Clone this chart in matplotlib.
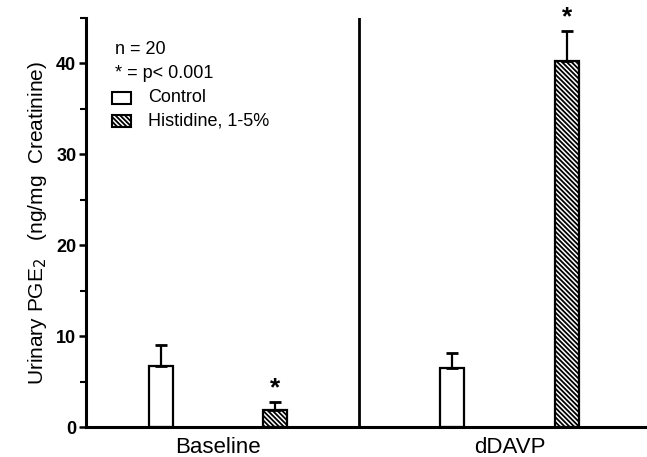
import matplotlib
matplotlib.use("Agg")
import matplotlib.pyplot as plt
from matplotlib.patches import Rectangle

plt.rcParams['font.family'] = ['Liberation Sans', 'DejaVu Sans']
plt.rcParams['hatch.linewidth'] = 1.3

# data
groups = ['Baseline', 'dDAVP']
group_pos = [2.35, 7.55]
control = [6.7, 6.5]
control_err = [2.3, 1.6]
histidine = [1.9, 40.3]
histidine_err = [0.8, 3.3]

HATCH = '\\' * 7

fig = plt.figure(figsize=(6.47, 4.57), dpi=100)
ax = fig.add_axes([86/647, 30/457, 561/647, 409/457])

off = 1.02
w = 0.43
xc = [p - off for p in group_pos]
xh = [p + off for p in group_pos]

ax.bar(xc, control, width=w, color='white', edgecolor='black', linewidth=1.6, zorder=2)
ax.bar(xh, histidine, width=w, color='white', edgecolor='black', linewidth=1.6,
       hatch=HATCH, zorder=2)
ax.errorbar(xc, control, yerr=[[0, 0], control_err], fmt='none', ecolor='black',
            elinewidth=1.6, capsize=4, capthick=2, zorder=3)
ax.errorbar(xh, histidine, yerr=[[0, 0], histidine_err], fmt='none', ecolor='black',
            elinewidth=1.6, capsize=4, capthick=2, zorder=3)
for x, v, e in zip(xh, histidine, histidine_err):
    ax.text(x, v + e + 0.2, '*', ha='center', va='bottom', fontsize=19, fontweight='bold')

# divider between conditions
ax.axvline(4.87, color='black', linewidth=2)

ax.set_xlim(0, 10)
ax.set_ylim(0, 45)
ax.set_yticks([0, 10, 20, 30, 40])
ax.set_yticks([5, 15, 25, 35, 45], minor=True)
ax.set_xticks(group_pos)
ax.set_xticklabels(groups, fontsize=16)
ax.tick_params(axis='x', length=0, pad=7)
ax.tick_params(axis='y', which='major', length=5, width=1.8, labelsize=13, pad=2)
ax.tick_params(axis='y', which='minor', length=4, width=1.5)
for lab in ax.get_yticklabels():
    lab.set_fontweight('bold')
for s in ['top', 'right']:
    ax.spines[s].set_visible(False)
ax.spines['left'].set_linewidth(2.2)
ax.spines['bottom'].set_linewidth(2.2)

ax.set_ylabel('Urinary PGE$_2$   (ng/mg  Creatinine)', fontsize=15, labelpad=5)

# hand-made legend block
def fx(px):
    return (px - 86) / 561

def fy(py):
    return (427 - py) / 409

tr = ax.transAxes
fs = 13
ax.text(fx(115), fy(50), 'n = 20', transform=tr, fontsize=fs, va='center')
ax.text(fx(115), fy(73), '* = p< 0.001', transform=tr, fontsize=fs, va='center')
ax.text(fx(148), fy(98), 'Control', transform=tr, fontsize=fs, va='center')
ax.text(fx(148), fy(121), 'Histidine, 1-5%', transform=tr, fontsize=fs, va='center')
ax.add_patch(Rectangle((fx(112), fy(104)), fx(131) - fx(112), fy(92) - fy(104), transform=tr,
                       facecolor='white', edgecolor='black', linewidth=1.5))
ax.add_patch(Rectangle((fx(112), fy(127)), fx(131) - fx(112), fy(115) - fy(127), transform=tr,
                       facecolor='white', edgecolor='black', linewidth=1.5, hatch=HATCH))

fig.savefig('out.png', dpi=100)
